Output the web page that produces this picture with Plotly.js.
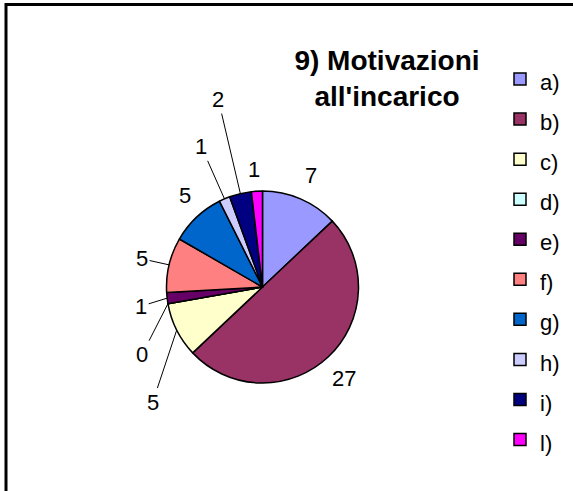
<!DOCTYPE html>
<html>
<head>
<meta charset="utf-8">
<script src="https://cdn.plot.ly/plotly-3.0.1.min.js"></script>
<style>
  body { margin: 0; background: #fff; }
  #myPlot { width: 573px; height: 491px; }
</style>
</head>
<body>
<div id="myPlot"></div>
<script>
const labels = ["a)", "b)", "c)", "d)", "e)", "f)", "g)", "h)", "i)", "l)"];
const values = [7, 27, 5, 0, 1, 5, 5, 1, 2, 1];
const colors = ["#9999FF", "#993366", "#FFFFCC", "#CCFFFF", "#660066",
                "#FF8080", "#0066CC", "#CCCCFF", "#000080", "#FF00FF"];

// where each value label sits, px from the slice edge (excel pushed the small ones out)
const labelDx = [10, 16, -24, -26, -26, -27, -12, -23, -22, -3];
const labelDy = [-23, 22, 72, 51, 8, -6, -22, -52, -94, -22];
const leader = [false, false, true, true, true, true, false, true, true, false];

const W = 573, H = 491;
const dom = {x: [166.5 / W, 358.5 / W], y: [1 - 383 / H, 1 - 191 / H]};
const cx = (dom.x[0] + dom.x[1]) / 2;
const cy = (dom.y[0] + dom.y[1]) / 2;
const r = Math.min((dom.x[1] - dom.x[0]) * W, (dom.y[1] - dom.y[0]) * H) / 2;

const total = values.reduce((s, v) => s + v, 0);
let cum = 0;
const annotations = values.map((v, i) => {
  const mid = (cum + v / 2) / total * 2 * Math.PI;
  cum += v;
  return {
    xref: "paper", yref: "paper",
    x: cx + r * Math.sin(mid) / W,
    y: cy + r * Math.cos(mid) / H,
    text: String(v),
    showarrow: true, arrowhead: 0, arrowwidth: 1, standoff: 0,
    arrowcolor: leader[i] ? "#000" : "rgba(0,0,0,0)",
    ax: labelDx[i], ay: labelDy[i],
    font: {size: 22, color: "#000"}
  };
});

const data = [{
  type: "pie",
  labels: labels.map(l => '<span style="font-size:22px">' + l + '</span>'),
  values: values,
  sort: false,
  direction: "clockwise",
  rotation: 0,
  textinfo: "none",
  hoverinfo: "label+value",
  domain: dom,
  marker: {colors: colors, line: {color: "#000", width: 1.5}}
}];

const layout = {
  width: W, height: H,
  margin: {l: 0, r: 0, t: 0, b: 0},
  paper_bgcolor: "#fff",
  font: {family: "Liberation Sans, Arial, sans-serif", color: "#000"},
  title: {
    text: "<b>9) Motivazioni</b><br><b>all'incarico</b>",
    font: {size: 28, color: "#000"},
    x: 387 / W, xanchor: "center",
    y: 1 - 70 / H, yanchor: "top"
  },
  showlegend: true,
  legend: {
    x: 500 / W, xanchor: "left",
    y: 1 - 54 / H, yanchor: "top",
    font: {size: 28.5},
    bgcolor: "rgba(0,0,0,0)", borderwidth: 0
  },
  annotations: annotations,
  shapes: [{
    type: "rect", xref: "paper", yref: "paper",
    x0: 6 / W, x1: 1.05, y0: -0.05, y1: 1 - 4.5 / H,
    line: {color: "#000", width: 3}
  }]
};

Plotly.newPlot("myPlot", data, layout, {displayModeBar: false});
</script>
</body>
</html>
